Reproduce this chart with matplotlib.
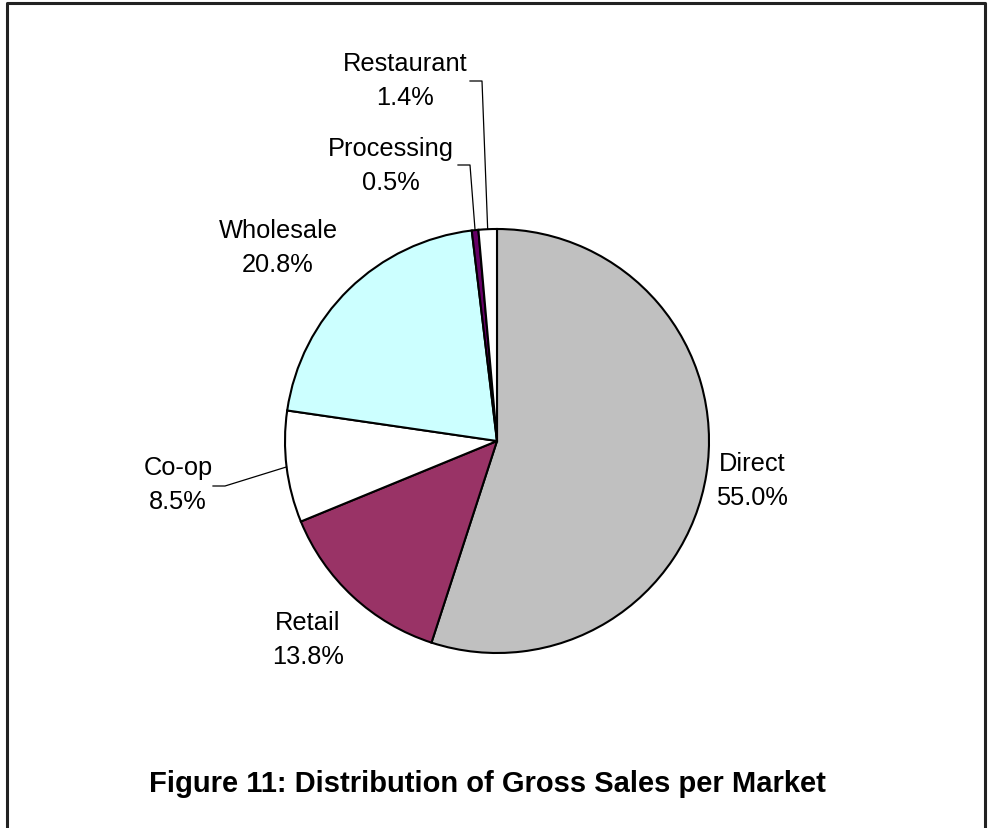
import matplotlib.pyplot as plt
import matplotlib
import numpy as np

markets = ["Direct", "Retail", "Co-op", "Wholesale", "Processing", "Restaurant"]
shares = [55.0, 13.8, 8.5, 20.8, 0.5, 1.4]
colors = ["#C0C0C0", "#993366", "#FFFFFF", "#CCFFFF", "#660066", "#FFFFFF"]

# label centre x and first-line baseline (pixels from top-left)
label_xy = [(752, 471), (308, 630), (178, 475), (278, 238), (391, 156), (405, 71)]
# leader lines: left end of the short horizontal piece (pixels)
leaders = {"Co-op": (213, 487), "Processing": (458, 166), "Restaurant": (470, 82)}

W, H = 988, 829
cx, cy, r = 497, 442, 212
line_gap = 34

matplotlib.rc("font", family="Liberation Sans")
fig = plt.figure(figsize=(W / 100, H / 100), dpi=100)
ax = fig.add_axes([0, 0, 1, 1])

wedges, _ = ax.pie(shares, colors=colors, startangle=90, counterclock=False,
                   center=(cx, H - cy), radius=r, normalize=True,
                   wedgeprops=dict(edgecolor="black", linewidth=1.5))
ax.set_xlim(0, W)
ax.set_ylim(0, H)
ax.set_aspect("equal")
ax.axis("off")

for name, val, (lx, ly), w in zip(markets, shares, label_xy, wedges):
    ax.text(lx, H - ly, name, ha="center", va="baseline", fontsize=18.3)
    ax.text(lx, H - ly - line_gap, f"{val:.1f}%", ha="center", va="baseline",
            fontsize=18.3)
    if name in leaders:
        ang = np.deg2rad((w.theta1 + w.theta2) / 2)
        px = cx + r * np.cos(ang)
        py = (H - cy) + r * np.sin(ang)
        ex, ey = leaders[name]
        ax.plot([ex, ex + 12, px], [H - ey, H - ey, py], color="black", lw=0.9)

# outer frame, open at the bottom
ax.plot([7, 7, 985, 985], [0, H - 4, H - 4, 0], color="#222222", lw=2.2)

ax.text(487, H - 792, "Figure 11: Distribution of Gross Sales per Market",
        ha="center", va="baseline", fontsize=21, fontweight="bold")

fig.savefig("out.png", dpi=100)
